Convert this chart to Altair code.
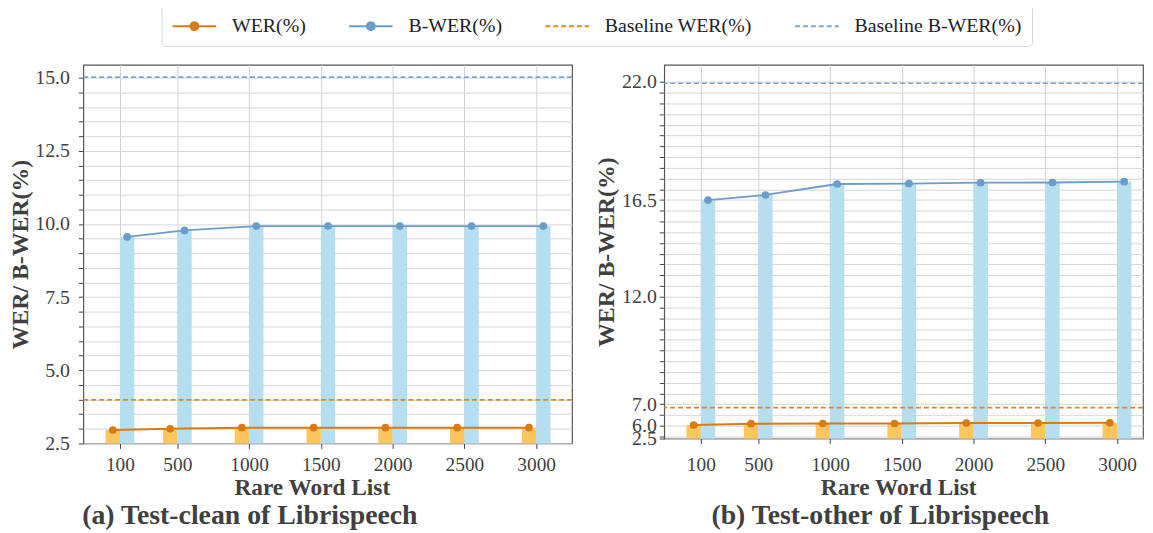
import altair as alt
import pandas as pd

SERIF = "Liberation Serif"
TXT = "#404040"

# ---------------- data ----------------
word_lists = [100, 500, 1000, 1500, 2000, 2500, 3000]
x_ticks = [100, 500, 1000, 1500, 2000, 2500, 3000]

clean_wer = [2.96, 3.00, 3.04, 3.04, 3.04, 3.04, 3.04]
clean_bwer = [9.56, 9.78, 9.93, 9.93, 9.93, 9.93, 9.93]
clean_baseline = [3.99, 15.02]          # Baseline WER, Baseline B-WER

other_wer = [6.03, 6.09, 6.10, 6.10, 6.12, 6.12, 6.13]
other_bwer = [16.50, 16.74, 17.25, 17.27, 17.31, 17.32, 17.36]
other_baseline = [6.84, 21.94]

series_names = ["WER(%)", "B-WER(%)", "Baseline WER(%)", "Baseline B-WER(%)"]
baseline_names = ["Baseline WER(%)", "Baseline B-WER(%)"]

clean_grid = [2.5 + 0.5 * i for i in range(26)]      # 2.5 .. 15.0
clean_labels = [2.5, 5.0, 7.5, 10.0, 12.5, 15.0]
other_bottom = 5.4                                    # axis bottom, labelled "2.5"
other_grid = [other_bottom] + [5.5 + 0.5 * i for i in range(34)]
other_labels = [6.0, 7.0, 12.0, 16.5, 22.0]
other_bottom_label = "2.5"

# ---------------- style ----------------
C_WER = "#d97b10"
C_BWER = "#6b9dcb"
C_BASE_WER = "#de8a22"
C_BASE_BWER = "#7ea6cb"
C_BAR_WER = "#fcc55e"
C_BAR_BWER = "#b6def1"

color_scale = alt.Scale(domain=series_names, range=[C_WER, C_BWER, C_BASE_WER, C_BASE_BWER])
dash_scale = alt.Scale(domain=series_names, range=[[1, 0], [1, 0], [5, 3], [5, 3]])

shape_expr = ("indexof(['WER(%)','B-WER(%)'], datum.value) >= 0 ? "
              "'M-1,0L3,0M0.64,0A0.36,0.36,0,1,1,1.36,0A0.36,0.36,0,1,1,0.64,0' : 'M-1,0L3,0'")
fill_expr = ("datum.value == 'WER(%)' ? '" + C_WER + "' : datum.value == 'B-WER(%)' ? '"
             + C_BWER + "' : 'transparent'")

legend = alt.Legend(
    title=None, orient="none", legendX=79, legendY=-61, direction="horizontal",
    symbolType=alt.ExprRef(expr=shape_expr), symbolFillColor=alt.ExprRef(expr=fill_expr),
    symbolSize=484, symbolStrokeWidth=2,
    labelFont=SERIF, labelFontSize=20, labelColor="#222222", labelOffset=37, labelLimit=400,
    columnPadding=39, padding=10, strokeColor="#d8d8d8", fillColor="white",
    cornerRadius=4,
)


def panel(wer, bwer, baseline, y_dom, grid_vals, label_expr, x_max, width, height,
          caption, caption_dx, xtitle_x, xlabel_pad, ylabel_pad, ytitle_pad):
    df = pd.DataFrame({"n": word_lists, "wer": wer, "bwer": bwer})
    df["wer_x0"] = df["n"] - 100
    df["wer_x"] = df["n"] - 50
    df["bwer_x"] = df["n"] + 50
    df["bwer_x1"] = df["n"] + 100
    df["ymin"] = y_dom[0]
    bdf = pd.DataFrame({"series": baseline_names, "v": baseline})

    xs = alt.Scale(domain=[-155, x_max], nice=False, zero=False)
    ys = alt.Scale(domain=y_dom, nice=False, zero=False)
    xaxis = alt.Axis(values=x_ticks, format="d", title="Rare Word List", grid=True,
                     gridColor="#d2d2d2", labelFontSize=19.5, titleFontSize=23.5,
                     titleFontWeight="bold", labelPadding=xlabel_pad, tickSize=5,
                     titleX=xtitle_x, titlePadding=2, labelFlush=False, labelOverlap=False)
    yaxis = alt.Axis(values=grid_vals, labelExpr=label_expr, title="WER/ B-WER(%)",
                     grid=True, gridColor="#d6d6d6", labelFontSize=20, titleFontSize=24,
                     titleFontWeight="bold", labelPadding=ylabel_pad, tickSize=5,
                     titlePadding=ytitle_pad, labelOverlap=False, labelFlush=False)

    base = alt.Chart(df)
    bar_w = base.mark_bar(color=C_BAR_WER).encode(
        x=alt.X("wer_x0:Q", scale=xs, axis=xaxis), x2="n:Q",
        y=alt.Y("wer:Q", scale=ys, axis=yaxis), y2="ymin:Q")
    bar_b = base.mark_bar(color=C_BAR_BWER).encode(
        x=alt.X("n:Q", scale=xs, axis=xaxis), x2="bwer_x1:Q",
        y=alt.Y("bwer:Q", scale=ys, axis=yaxis), y2="ymin:Q")
    rules = alt.Chart(bdf).mark_rule(strokeWidth=1.6).encode(
        y=alt.Y("v:Q", scale=ys, axis=yaxis),
        color=alt.Color("series:N", scale=color_scale, legend=legend),
        strokeDash=alt.StrokeDash("series:N", scale=dash_scale, legend=legend))
    line_w = base.mark_line(color=C_WER, strokeWidth=2).encode(
        x=alt.X("wer_x:Q", scale=xs, axis=xaxis), y=alt.Y("wer:Q", scale=ys, axis=yaxis))
    pts_w = base.mark_circle(color=C_WER, size=60, opacity=1).encode(
        x=alt.X("wer_x:Q", scale=xs, axis=xaxis), y=alt.Y("wer:Q", scale=ys, axis=yaxis))
    line_b = base.mark_line(color=C_BWER, strokeWidth=1.8).encode(
        x=alt.X("bwer_x:Q", scale=xs, axis=xaxis), y=alt.Y("bwer:Q", scale=ys, axis=yaxis))
    pts_b = base.mark_circle(color=C_BWER, size=60, opacity=1).encode(
        x=alt.X("bwer_x:Q", scale=xs, axis=xaxis), y=alt.Y("bwer:Q", scale=ys, axis=yaxis))

    return alt.layer(bar_w, bar_b, rules, line_w, pts_w, line_b, pts_b).properties(
        width=width, height=height,
        title=alt.TitleParams(caption, orient="bottom", anchor="middle", frame="group",
                              font=SERIF, fontSize=28, fontWeight="bold", color=TXT,
                              dx=caption_dx, offset=3))


fmt_list = lambda vals: "[" + ",".join(str(v) for v in vals) + "]"
clean_expr = ("indexof(" + fmt_list(clean_labels) + ", datum.value) >= 0 ? "
              "format(datum.value, '.1f') : ''")
other_expr = ("datum.value == " + str(other_bottom) + " ? '" + other_bottom_label + "' : indexof("
              + fmt_list(other_labels) + ", datum.value) >= 0 ? format(datum.value, '.1f') : ''")

left = panel(clean_wer, clean_bwer, clean_baseline, [2.5, 15.44], clean_grid, clean_expr,
             3250, 493, 382, "(a) Test-clean of Librispeech", -78.5, 230.5, 7, 9, 2)
right = panel(other_wer, other_bwer, other_baseline, [other_bottom, 22.8], other_grid, other_expr,
              3181, 483, 377, "(b) Test-other of Librispeech", -23.5, 236, 12, 3, 3)

chart = alt.hconcat(left, right, spacing=20).resolve_scale(
    color="shared", strokeDash="shared", x="independent", y="independent"
).properties(
    padding={"top": -7, "left": 0, "right": 0, "bottom": 0},
).configure_axis(
    labelFont=SERIF, titleFont=SERIF, labelColor=TXT, titleColor=TXT,
    tickColor="#444444", domain=False,
).configure_legend(
    labelFont=SERIF, labelFontSize=20, labelColor="#222222", labelLimit=400,
).configure_view(stroke="#555555", strokeWidth=1.2)

chart.save("out.html", embed_options={"renderer": "svg", "actions": False})
